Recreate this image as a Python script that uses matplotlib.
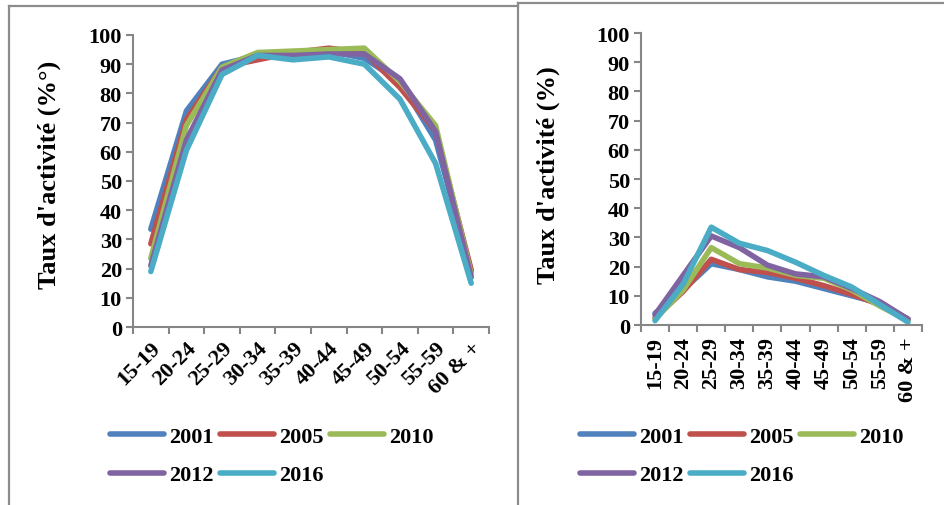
import matplotlib.pyplot as plt
from matplotlib.lines import Line2D

plt.rcParams['font.family'] = ['Liberation Serif', 'DejaVu Serif']
plt.rcParams['font.weight'] = 'bold'

age_groups = ['15-19', '20-24', '25-29', '30-34', '35-39',
              '40-44', '45-49', '50-54', '55-59', '60 & +']
years = ['2001', '2005', '2010', '2012', '2016']
colors = ['#4F81BD', '#C0504D', '#9BBB59', '#8064A2', '#4BACC6']

# taux d'activité des hommes (%)
hommes = {
    '2001': [33.5, 74, 90, 93, 94, 94.5, 92, 84, 64, 19],
    '2005': [28.5, 71, 89, 91.5, 94, 95.5, 94, 82, 67, 19.5],
    '2010': [23.5, 69, 89, 94, 94.5, 95, 95.5, 84, 69, 18],
    '2012': [21, 64, 88, 93, 93, 93.5, 93.5, 85, 67, 17],
    '2016': [19, 60.5, 86.5, 93, 91.5, 92.5, 90, 78, 56, 15],
}

# taux d'activité des femmes (%)
femmes = {
    '2001': [4, 12, 21, 19, 16.5, 15, 12.5, 10, 7.5, 2],
    '2005': [2.5, 11.5, 22.5, 19, 18, 16, 13.5, 10.5, 7, 2],
    '2010': [2, 12, 26.5, 21, 19.5, 17, 16, 12, 6.5, 1.5],
    '2012': [3.5, 17, 30.5, 26.5, 20.5, 17.5, 16.5, 12.5, 8, 2],
    '2016': [1.5, 14, 33.5, 28, 25.5, 21.5, 17, 13, 7, 1],
}

fig = plt.figure(figsize=(9.45, 5.06), dpi=100)
W, H = 945, 506

grey = '#868686'


def panel(rect, data, ylabel, rot, ylabel_x, legend_x):
    ax = fig.add_axes(rect)
    x = range(len(age_groups))
    handles = []
    for y, c in zip(years, colors):
        h, = ax.plot(x, data[y], color=c, lw=4, solid_capstyle='round',
                     solid_joinstyle='round')
        handles.append(h)
    ax.set_xlim(-0.5, len(age_groups) - 0.5)
    ax.set_ylim(0, 100)
    ax.set_yticks(range(0, 101, 10))
    ax.set_xticks(list(x))
    if rot == 90:
        ax.set_xticklabels(age_groups, rotation=90, fontsize=16,
                           fontweight='bold')
    else:
        ax.set_xticklabels(age_groups, rotation=45, ha='right',
                           rotation_mode='anchor', fontsize=16,
                           fontweight='bold')
    ax.set_xticks([i - 0.5 for i in range(len(age_groups) + 1)], minor=True)
    ax.tick_params(axis='x', which='major', length=0, pad=8)
    ax.tick_params(axis='x', which='minor', length=5, width=1.5,
                   color=grey, direction='out')
    ax.tick_params(axis='y', length=5, width=1.5, color=grey, labelsize=16,
                   pad=3)
    for lab in ax.get_yticklabels():
        lab.set_fontweight('bold')
    for s in ['top', 'right']:
        ax.spines[s].set_visible(False)
    for s in ['left', 'bottom']:
        ax.spines[s].set_color(grey)
        ax.spines[s].set_linewidth(1.5)
    fig.text(ylabel_x / W, 1 - 175 / H, ylabel, rotation=90, fontsize=19,
             fontweight='bold', ha='center', va='center')
    order = [0, 3, 1, 4, 2]
    fig.legend([handles[i] for i in order], [years[i] for i in order],
               loc='center', bbox_to_anchor=(legend_x / W, 1 - 457 / H),
               ncol=3, frameon=False, handlelength=2.4,
               handletextpad=0.25, columnspacing=0.3, labelspacing=0.8,
               borderpad=0, prop={'weight': 'bold', 'size': 16})
    return ax


panel([133 / W, 1 - 328 / H, (489 - 133) / W, (328 - 36) / H], hommes,
      "Taux d'activité (%°)", 45, 49, 272)
panel([641 / W, 1 - 326 / H, (922 - 641) / W, (326 - 34) / H], femmes,
      "Taux d'activité (%)", 90, 548, 742)

# cadres autour des deux graphiques
fig.add_artist(Line2D([9.5 / W, 9.5 / W], [0, 1 - 7 / H], color='#8c8c8c',
                      lw=1.6, transform=fig.transFigure))
fig.add_artist(Line2D([9.5 / W, 518 / W], [1 - 7 / H, 1 - 7 / H],
                      color='#8c8c8c', lw=1.6, transform=fig.transFigure))
fig.add_artist(Line2D([518 / W, 518 / W], [0, 1 - 4 / H], color='#8c8c8c',
                      lw=1.6, transform=fig.transFigure))
fig.add_artist(Line2D([518 / W, 1], [1 - 4 / H, 1 - 4 / H], color='#8c8c8c',
                      lw=1.6, transform=fig.transFigure))

fig.savefig('out.png', dpi=100)
